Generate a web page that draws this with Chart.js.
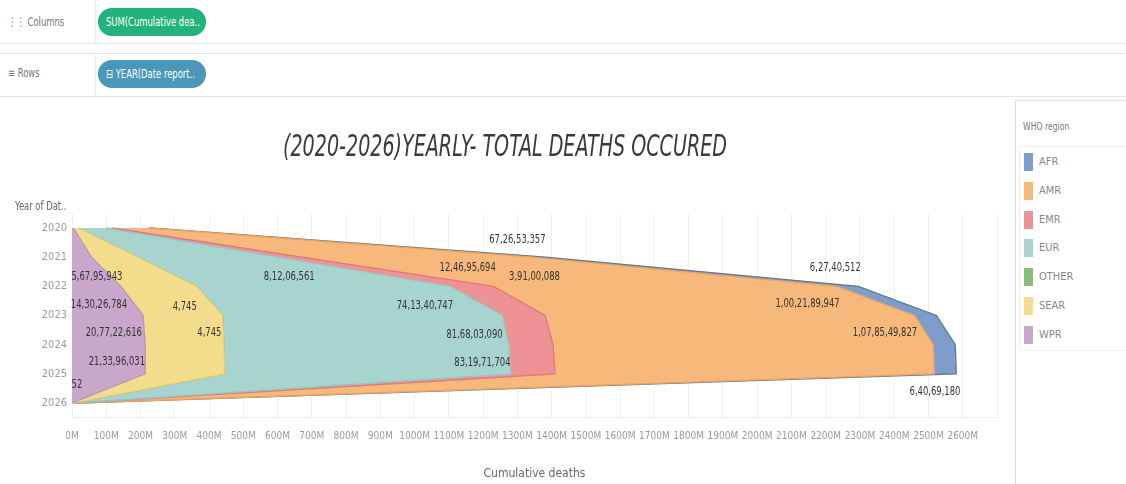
<!DOCTYPE html>
<html>
<head>
<meta charset="utf-8">
<script src="https://cdn.jsdelivr.net/npm/chart.js@4.4.1/dist/chart.umd.min.js"></script>
<style>
  body { margin:0; width:1126px; height:484px; background:#fff; position:relative; overflow:hidden;
         font-family:'DejaVu Sans Condensed','Roboto',sans-serif; color:#666; }
  .sq { display:inline-block; transform:scaleX(0.78); transform-origin:left center; white-space:nowrap; }
  .shelfLabel { position:absolute; left:8px; font-size:12px; color:#777; }
  .pill { position:absolute; left:98px; width:108px; height:28px; border-radius:14px; color:#fff;
          font-size:12px; line-height:28px; padding-left:8px; box-sizing:border-box; white-space:nowrap; overflow:hidden; }
  .hline { position:absolute; left:0; width:1126px; height:1px; background:#e2e2e2; }
  #myChart { position:absolute; left:0; top:100px; }
  #yTitle { position:absolute; left:15px; top:199px; font-size:12px; color:#666; }
  #legendPanel { position:absolute; left:1015px; top:100px; width:111px; height:384px; border-left:1px solid #dcdcdc; border-top:1px solid #e6e6e6; }
  #legendTitle { position:absolute; left:7px; top:19px; font-size:11px; color:#777; }
  #legendList { position:absolute; left:3px; top:45px; width:120px; height:203px; border:1px solid #eee; }
  .item { position:absolute; left:4px; height:18px; font-size:11px; color:#888; line-height:18px; white-space:nowrap; }
  .item span { display:inline-block; width:9px; height:18px; vertical-align:top; margin-right:6px; }
</style>
</head>
<body>
<div class="shelfLabel" style="top:15px"><span class="sq">&#8942;&#8942; Columns</span></div>
<div class="pill" style="top:8px;background:#22b37d"><span class="sq">SUM(Cumulative dea..</span></div>
<div class="hline" style="top:43px"></div>
<div class="hline" style="top:53px"></div>
<div class="shelfLabel" style="top:66px"><span class="sq">&#8801; Rows</span></div>
<div class="pill" style="top:60px;background:#4a97b9"><span class="sq">&#8863; YEAR(Date report..</span></div>
<div class="hline" style="top:96px"></div>
<div style="position:absolute;left:95px;top:0;width:1px;height:43px;background:#ececec"></div>
<div style="position:absolute;left:95px;top:53px;width:1px;height:43px;background:#ececec"></div>

<canvas id="myChart" width="1010" height="384"></canvas>
<div id="yTitle"><span class="sq">Year of Dat..</span></div>
<div id="legendPanel">
  <div id="legendTitle"><span class="sq">WHO region</span></div>
  <div id="legendList"></div>
</div>

<script>
// yearly sum of cumulative deaths per WHO region
const years = ['2020', '2021', '2022', '2023', '2024', '2025', '2026'];
const wpr   = [4000000, 56795943, 143026784, 207722616, 213396031, 213600000, 52];
const sear  = [15000000, 135000000, 221000000, 232000000, 230000000, 232000000, 1600000];
const other = [3900, 4745, 4745, 4745, 4758, 4745, 13];
const eur   = [81206561, 411000000, 741340747, 816803090, 831971704, 836000000, 4600000];
const emr   = [18000000, 68000000, 124695694, 124300000, 128600000, 128500000, 700000];
const amr   = [103000000, 672653357, 1002189947, 1078549827, 1110000000, 1107000000, 6100000];
const afr   = [6000000, 39100088, 62740512, 64000000, 64200000, 64069180, 350000];

const xTicksMax = 2600000000;

const FONT = "'DejaVu Sans Condensed','Roboto',sans-serif";

// stacking order, left to right
const regions = [
    { name: 'WPR',   data: wpr,   fill: '#c9a6cb', line: '#b994bb' },
    { name: 'SEAR',  data: sear,  fill: '#f4dc8d', line: '#e9cf78' },
    { name: 'OTHER', data: other, fill: '#86bf7c', line: '#62a85a' },
    { name: 'EUR',   data: eur,   fill: '#a8d4cf', line: '#94c6c0' },
    { name: 'EMR',   data: emr,   fill: '#ee9295', line: '#e0767b' },
    { name: 'AMR',   data: amr,   fill: '#f6b87b', line: '#eea15a' },
    { name: 'AFR',   data: afr,   fill: '#7e9dc9', line: '#5e7797' }
];
const seriesByName = {};
regions.forEach(r => seriesByName[r.name] = r.data);

// where tableau put the mark labels: [series, year index, x value, y position]
const labelSpots = [
    ['WPR', 1, 72.7e6, 1.68],
    ['WPR', 2, 78.5e6, 2.64],
    ['WPR', 3, 122e6, 3.60],
    ['WPR', 4, 131e6, 4.59],
    ['WPR', 6, 14.5e6, 5.38],
    ['OTHER', 1, 329e6, 2.71],
    ['OTHER', 2, 401e6, 3.60],
    ['EUR', 0, 634e6, 1.68],
    ['EUR', 2, 1030e6, 2.67],
    ['EUR', 3, 1175e6, 3.67],
    ['EUR', 4, 1198e6, 4.63],
    ['EMR', 2, 1155e6, 1.37],
    ['AFR', 1, 1350e6, 1.68],
    ['AMR', 1, 1300e6, 0.41],
    ['AFR', 2, 2228e6, 1.37],
    ['AMR', 2, 2147e6, 2.61],
    ['AMR', 3, 2373e6, 3.60],
    ['AFR', 5, 2519e6, 5.62]
];

// 1,00,21,89,947 style grouping
const indianFormat = (n) => {
    const s = String(Math.round(n));
    if (s.length <= 3) return s;
    let rest = s.slice(0, -3);
    const parts = [];
    while (rest.length > 2) {
        parts.unshift(rest.slice(-2));
        rest = rest.slice(0, -2);
    }
    if (rest) parts.unshift(rest);
    return parts.join(',') + ',' + s.slice(-3);
};

const valueLabels = {
    id: 'valueLabels',
    afterDatasetsDraw(chart) {
        const { ctx, scales: { x, y } } = chart;
        ctx.save();
        ctx.font = '12px ' + FONT;
        ctx.fillStyle = '#333';
        ctx.textAlign = 'center';
        ctx.textBaseline = 'middle';
        labelSpots.forEach(([name, i, atX, atY]) => {
            const txt = indianFormat(seriesByName[name][i]);
            const w = ctx.measureText(txt).width * 0.78;
            ctx.fillText(txt, x.getPixelForValue(atX), y.getPixelForValue(atY), w);
        });
        ctx.restore();
    }
};

// big italic heading, squeezed like the tableau font
const headTitle = {
    id: 'headTitle',
    afterDraw(chart) {
        const ctx = chart.ctx;
        ctx.save();
        ctx.font = 'italic 30px ' + FONT;
        ctx.fillStyle = '#3a3a3a';
        ctx.textAlign = 'center';
        ctx.textBaseline = 'middle';
        ctx.fillText('(2020-2026)YEARLY- TOTAL DEATHS OCCURED', 505, 48, 444);
        ctx.restore();
    }
};

const ctx = document.getElementById('myChart');

new Chart(ctx, {
    type: 'line',
    data: {
        labels: years,
        datasets: regions.map((r, idx) => ({
            label: r.name,
            data: r.data,
            backgroundColor: r.fill,
            borderColor: r.line,
            borderWidth: 1.3,
            fill: idx === 0 ? 'origin' : '-1',
            tension: 0,
            pointRadius: 0
        }))
    },
    options: {
        indexAxis: 'y',
        responsive: false,
        animation: false,
        layout: { padding: { top: 113.4, right: 9.7, left: 0, bottom: 0 } },
        plugins: {
            legend: { display: false },
            title: { display: false },
            tooltip: { enabled: false }
        },
        scales: {
            x: {
                type: 'linear',
                stacked: true,
                min: 0,
                max: 2700000000,
                border: { display: true, color: '#eeeeee' },
                grid: { color: '#f0f0f0', drawTicks: false },
                ticks: {
                    stepSize: 100000000,
                    padding: 13,
                    color: '#9a9a9a',
                    font: { family: FONT, size: 10 },
                    maxRotation: 0,
                    autoSkip: false,
                    callback: (v) => v <= xTicksMax ? Math.round(v / 1000000) + 'M' : ''
                },
                title: {
                    display: true,
                    text: 'Cumulative deaths',
                    color: '#666',
                    font: { family: FONT, size: 12 },
                    padding: { top: 0, bottom: 3 }
                },
                afterFit: (scale) => { scale.height = 66.4; }
            },
            y: {
                type: 'category',
                offset: true,
                border: { display: false },
                grid: { display: false, drawTicks: false },
                ticks: {
                    padding: 5,
                    color: '#9a9a9a',
                    font: { family: FONT, size: 11 }
                },
                afterFit: (scale) => { scale.width = 72; }
            }
        }
    },
    plugins: [valueLabels, headTitle]
});

// legend card on the right, AFR on top
const legendList = document.getElementById('legendList');
regions.slice().reverse().forEach((r, k) => {
    const item = document.createElement('div');
    item.className = 'item';
    item.style.top = (6 + k * 28.8) + 'px';
    item.innerHTML = '<span style="background:' + r.fill + '"></span>' + r.name;
    legendList.appendChild(item);
});
</script>
</body>
</html>
